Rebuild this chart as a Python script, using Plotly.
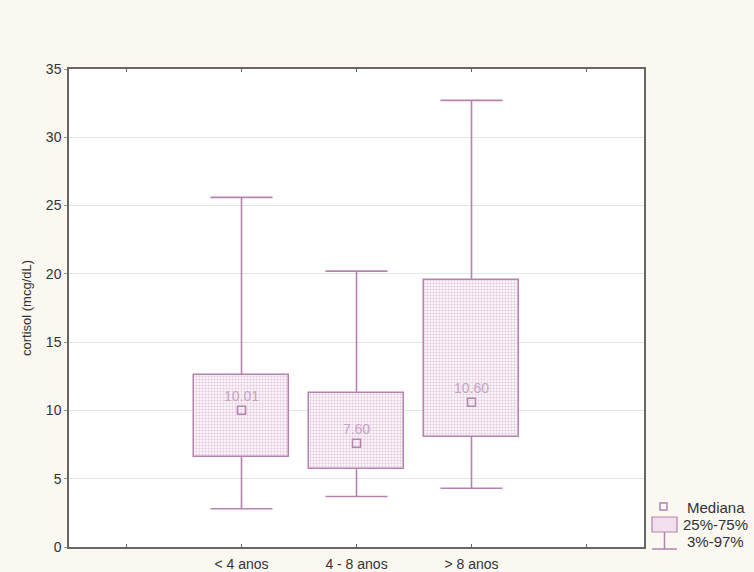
import plotly.graph_objects as go

# Cortisol by age group: median, 25-75% box, 3-97% whiskers
groups = ["< 4 anos", "4 - 8 anos", "> 8 anos"]
positions = [1, 2, 3]
medians = [10.01, 7.60, 10.60]
q25 = [6.6, 5.7, 8.05]
q75 = [12.6, 11.27, 19.55]
p03 = [2.8, 3.7, 4.3]
p97 = [25.6, 20.2, 32.7]
legend_labels = ["Mediana", "25%-75%", "3%-97%"]

line_col = "#B583AD"
text_col = "#C6A4BF"
box_w = 0.82
cap_w = 0.54

fig = go.Figure()

# 25%-75% boxes as bars with a base
fig.add_trace(go.Bar(
    x=positions, y=[b - a for a, b in zip(q25, q75)], base=q25,
    width=box_w, name=legend_labels[1],
    marker=dict(color="white", line=dict(color=line_col, width=1.5),
                pattern=dict(shape=".", fgcolor="#CC9CC4", bgcolor="white",
                             size=3, solidity=0.5)),
    hoverinfo="skip",
))

# whiskers (vertical stems and caps)
wx, wy = [], []
for p, lo, hi, a, b in zip(positions, p03, p97, q25, q75):
    wx += [p, p, None, p, p, None,
           p - cap_w / 2, p + cap_w / 2, None, p - cap_w / 2, p + cap_w / 2, None]
    wy += [b, hi, None, lo, a, None, hi, hi, None, lo, lo, None]
fig.add_trace(go.Scatter(
    x=wx, y=wy, mode="lines", name=legend_labels[2],
    line=dict(color=line_col, width=1.6), hoverinfo="skip",
))

# medians with value labels
fig.add_trace(go.Scatter(
    x=positions, y=medians, mode="markers+text", name=legend_labels[0],
    marker=dict(symbol="square-open", size=8, color=line_col,
                line=dict(width=1.5, color=line_col)),
    text=[f"{m:.2f}" for m in medians], textposition="top center",
    textfont=dict(size=14, color=text_col, family="Arial"),
    hoverinfo="skip",
))

# key drawn in the right margin (pixel positions converted to paper units)
L, R, T, B = 69, 644, 69, 547
def px(x):
    return (x - L) / (R - L)
def py(y):
    return (B - y) / (B - T)

shapes = [
    # median square
    dict(type="rect", xref="paper", yref="paper",
         x0=px(660), x1=px(667), y0=py(510), y1=py(503),
         line=dict(color=line_col, width=1.5), fillcolor="white"),
    # quartile box
    dict(type="rect", xref="paper", yref="paper",
         x0=px(652), x1=px(677), y0=py(532), y1=py(517),
         line=dict(color=line_col, width=1.2), fillcolor="#F2DFEE"),
    # whisker symbol
    dict(type="line", xref="paper", yref="paper",
         x0=px(664.5), x1=px(664.5), y0=py(532), y1=py(549),
         line=dict(color=line_col, width=1.5)),
    dict(type="line", xref="paper", yref="paper",
         x0=px(652), x1=px(677), y0=py(549), y1=py(549),
         line=dict(color=line_col, width=1.5)),
]
annotations = [
    dict(text=lab, xref="paper", yref="paper", x=px(716), y=py(yc),
         xanchor="center", yanchor="middle", showarrow=False,
         font=dict(size=15, color="#333333", family="Arial"))
    for lab, yc in zip(legend_labels, [507, 524, 541])
]

fig.update_layout(
    width=754, height=572,
    margin=dict(l=L, r=754 - R, t=T, b=572 - B, autoexpand=False),
    paper_bgcolor="#FAF8F1", plot_bgcolor="white",
    font=dict(family="Arial", size=13, color="#333333"),
    showlegend=False,
    bargap=0,
    shapes=shapes,
    annotations=annotations,
)
fig.update_xaxes(
    range=[-0.5, 4.5], tickmode="array", tickvals=[0, 1, 2, 3, 4],
    ticktext=["", groups[0], groups[1], groups[2], ""],
    showgrid=False, showline=True, linecolor="#666666", linewidth=1.5,
    mirror="ticks", ticks="inside", ticklen=3, tickcolor="#666666",
    zeroline=False, tickfont=dict(size=14), ticklabelstandoff=3,
)
fig.update_yaxes(
    range=[0, 35], tickvals=[0, 5, 10, 15, 20, 25, 30, 35],
    showgrid=True, gridcolor="#E6E6E6", gridwidth=1,
    showline=True, linecolor="#666666", linewidth=1.5, mirror=True,
    ticks="outside", ticklen=3, tickcolor="#999999", zeroline=False,
    title=dict(text="cortisol (mcg/dL)", font=dict(size=13), standoff=11),
    tickfont=dict(size=14),
)

fig.write_html("out.html")
